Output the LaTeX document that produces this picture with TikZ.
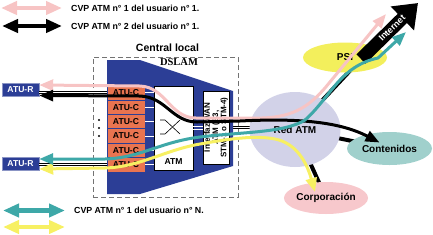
\documentclass[tikz,border=0pt]{standalone}
\usepackage{fontspec}
\setmainfont{Liberation Sans}
\newfontfamily\dslamfont{Liberation Serif}
\usetikzlibrary{arrows.meta, positioning, calc, shapes.geometric}

\definecolor{cvppink}{RGB}{247,196,196}
\definecolor{cvpteal}{RGB}{62,168,168}
\definecolor{cvpyellow}{RGB}{247,240,98}
\definecolor{dslamblue}{RGB}{44,62,150}
\definecolor{atucorange}{RGB}{233,116,80}
\definecolor{redatmfill}{RGB}{210,210,232}
\definecolor{psifill}{RGB}{243,239,92}
\definecolor{contfill}{RGB}{160,208,204}
\definecolor{corpfill}{RGB}{247,200,204}

\pgfdeclarelayer{back}
\pgfsetlayers{back,main}

\begin{document}
\begin{tikzpicture}[
  x=1pt, y=-1pt,
  font=\bfseries\fontsize{8.6}{10}\selectfont,
  legtext/.style={anchor=west, inner sep=0pt, font=\bfseries\fontsize{8.8}{10}\selectfont},
  legarrow/.style={line width=4.5pt, {Triangle[length=16pt,width=13pt]}-{Triangle[length=16pt,width=13pt]}},
  route/.style={line width=3pt, {Triangle[length=14pt,width=11pt]}-{Triangle[length=14pt,width=11pt]}},
  atur/.style={fill=dslamblue, draw=dslamblue!55, text=white, minimum width=37pt, minimum height=13pt, inner sep=0pt},
  atuc/.style={fill=atucorange, draw=dslamblue, line width=0.6pt, minimum width=38pt, minimum height=14.4pt, inner sep=0pt},
  card/.style={fill=white, draw=black, line width=0.5pt, inner sep=0pt},
  cloud/.style={ellipse, inner sep=0pt, font=\bfseries\fontsize{10}{12}\selectfont},
  physline/.style={double=white, double distance=1.4pt, line width=0.7pt, black},
  link/.style={line width=4pt, black},
]
\useasboundingbox (0,0) rectangle (433,234);

% legend
\node[legtext] (leg1) at (71,8) {CVP ATM n° 1 del usuario n° 1.};
\node[legtext] (leg2) at (71,26) {CVP ATM n° 2 del usuario n° 1.};
\node[legtext] (leg3) at (74,210.5) {CVP ATM n° 1 del usuario n° N.};
\coordinate (ly1) at (3,227);
\coordinate (ly2) at (65,227);
\draw[legarrow, cvppink] ([xshift=-70pt]leg1.west) -- ([xshift=-9pt]leg1.west);
\draw[legarrow, black] ([xshift=-69pt]leg2.west) -- ([xshift=-9pt]leg2.west);
\draw[legarrow, cvpteal] ([xshift=-71pt]leg3.west) -- ([xshift=-9pt]leg3.west);
\draw[legarrow, cvpyellow] (ly1) -- (ly2);

% central local with the DSLAM
\node[font=\bfseries\fontsize{10.5}{12}\selectfont] (central) at (167.5,48) {Central local};
\node[draw=black!55, dash pattern=on 5pt off 3pt, line width=0.6pt, minimum width=145pt, minimum height=140pt, inner sep=0pt] (local) at (165.5,127) {};
\fill[dslamblue] (107,60) -- (140,60) -- (233,91) -- (233,166) -- (140,194) -- (107,194) -- cycle;
\node[font=\dslamfont\bfseries\fontsize{10.5}{12}\selectfont] (dslam) at (179,62) {DSLAM};
\foreach \i in {1,...,6}
  \node[atuc] (atuc\i) at (126,{78.3+14.4*\i}) {ATU-C};
\node[card, minimum width=39pt, minimum height=84pt] (atm) at (173.5,128) {};
\node (atmlabel) at (173.5,162) {ATM};
\draw[line width=0.6pt] (160,120) -- (165,120) -- (180,134);
\draw[line width=0.6pt] (160,134) -- (165,134) -- (180,120);
\foreach \i in {1,...,6}
  \draw[white, line width=0.8pt] (atuc\i.east) -- (atuc\i.east -| atm.west);
\node[card, minimum width=26.5pt, minimum height=73pt] (wan) at (216,127.5) {};
\node[rotate=90, align=center, inner sep=0pt, font=\bfseries\fontsize{8}{8.3}\selectfont] (wantext) at (wan) {Interfaz WAN\\ATM (E3,\\STM-1 o STM-4)};
\draw[white, line width=0.8pt] ([yshift=1.5pt]atm.east) -- ([yshift=1.5pt]atm.east -| wan.west);
\draw[white, line width=0.8pt] ([yshift=-1.5pt]atm.east) -- ([yshift=-1.5pt]atm.east -| wan.west);
\foreach \y in {120,128,136}
  \fill (99,\y) circle (1.1pt);

% user side
\node[atur] (atur1) at (20.5,89.5) {ATU-R};
\node[atur] (atur2) at (20.5,164) {ATU-R};
\draw[physline] (atur1.east |- atuc1.west) -- (atuc1.west);
\draw[physline] (atur2.east |- atuc6.west) -- (atuc6.west);

% network side
\node[cloud, fill=redatmfill, minimum width=91pt, minimum height=75pt] (redatm) at (295,129.5) {Red ATM};
\node[cloud, fill=psifill, minimum width=84pt, minimum height=30pt] (psi) at (345,57.5) {PSI};
\node[cloud, fill=contfill, minimum width=85pt, minimum height=33pt] (cont) at (389.5,148.5) {Contenidos};
\node[cloud, fill=corpfill, minimum width=82pt, minimum height=32pt] (corp) at (326,198) {Corporación};
\coordinate (inettail) at (361,59);
\coordinate (inettip) at (418,3);
\begin{pgfonlayer}{back}
  \draw[link] (redatm.center) -- (inettail);
  \draw[link] (redatm.center) -- (cont.center);
  \draw[link] (redatm.center) -- (corp.center);
  \draw[physline] (wan.east) -- (wan.east -| redatm.center);
\end{pgfonlayer}
\draw[line width=13pt, -{Triangle[length=22pt,width=32pt]}] (inettail) -- (inettip);
\node[rotate=44.5, text=white, inner sep=0pt, font=\bfseries\fontsize{9}{10}\selectfont] (inet) at (392,28) {Internet};

% virtual paths
\coordinate (pinktip) at (386,14);
\coordinate (tealtip) at (406,32);
\coordinate (blacktip) at ($(cont)+(-10,-6)$);
\coordinate (yellowtip) at ($(corp)+(-11,-6)$);
\draw[route, cvpyellow] ([yshift=-5pt]atur2.east) -- (105,168) .. controls (140,167) and (165,150) .. (200,144)
  .. controls (228,139) and (255,135) .. (275,139) .. controls (295,143) and (306,160) .. (yellowtip);
\draw[route, cvppink] ([yshift=4.5pt]atur1.east) -- (140,86) .. controls (166,87) and (170,118) .. (196,118)
  -- (262,118) .. controls (295,117) and (310,105) .. (325,88) -- (pinktip);
\draw[route, black] ([yshift=-6pt]atur1.east) -- (140,96) .. controls (166,97) and (172,122) .. (197,122)
  -- (240,121) .. controls (300,118) and (340,122) .. (blacktip);
\draw[route, cvpteal] ([yshift=5pt]atur2.east) -- (105,159) .. controls (140,158) and (160,142) .. (200,137)
  .. controls (240,132) and (285,133) .. (305,120) .. controls (330,98) and (340,66) .. (378,58) -- (tealtip);
\end{tikzpicture}
\end{document}
